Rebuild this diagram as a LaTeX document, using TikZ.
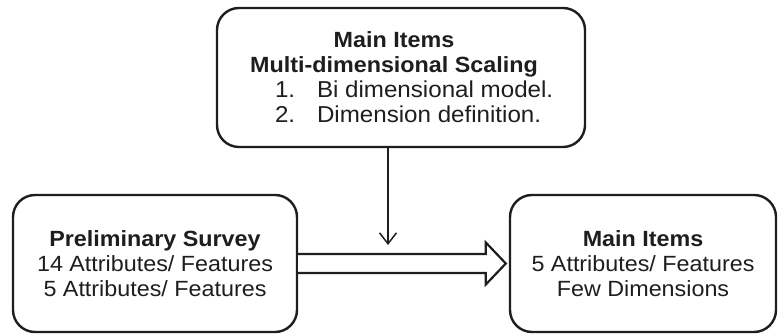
\documentclass[tikz,border=0pt]{standalone}
\usepackage{fontspec}
\setmainfont{Liberation Sans}[FakeStretch=1.06]
\newfontfamily\listfont{Liberation Sans}[FakeStretch=1.05]
\usetikzlibrary{arrows.meta,calc}
\definecolor{ink}{HTML}{1E1E1E}
\newcommand{\listline}[2]{\hspace*{13pt}\makebox[265pt][l]{\listfont\fontsize{23}{25}\selectfont\makebox[42pt][l]{#1}#2}}
\tikzset{
  itembox/.style={draw=ink, line width=2.4pt, rounded corners=22pt, fill=white,
    align=center, inner sep=0pt, text=ink,
    font=\fontsize{22}{25}\selectfont},
  downarrow/.style={draw=ink, line width=1.5pt, -{Straight Barb[length=11pt,width=17pt,line width=1.5pt]}},
  bigarrow/.style={draw=ink, line width=2.2pt, line join=miter, fill=white},
}
\begin{document}
\begin{tikzpicture}[x=1pt,y=1pt]
  \useasboundingbox (0,0) rectangle (778,334);
  % the three boxes
  \node[itembox, minimum width=368pt, minimum height=139pt] (scaling) at (401,256.5)
    {\hspace*{-14pt}\textbf{Main Items}\\
     \hspace*{-14pt}\textbf{Multi-dimensional Scaling}\\
     \listline{1.}{Bi dimensional model.}\\
     \listline{2.}{Dimension definition.}};
  \node[itembox, minimum width=284pt, minimum height=137pt] (survey) at (155,70.5)
    {\textbf{Preliminary Survey}\\
     14 Attributes/ Features\\
     5 Attributes/ Features};
  \node[itembox, minimum width=266pt, minimum height=137pt] (main) at (643,70.5)
    {\textbf{Main Items}\\
     5 Attributes/ Features\\
     Few Dimensions};
  % hollow block arrow from the survey to the main items
  \draw[bigarrow]
    ($(survey.east)+(0,9.5)$) -- ($(main.west)+(-23,9.5)$) -- ($(main.west)+(-23,21)$)
    -- ($(main.west)+(-3,0)$)
    -- ($(main.west)+(-23,-21)$) -- ($(main.west)+(-23,-9.5)$) -- ($(survey.east)+(0,-9.5)$);
  % scaling feeds into the block arrow
  \coordinate (join) at (388,89);
  \draw[downarrow] (scaling.south -| join) -- (join);
\end{tikzpicture}
\end{document}
